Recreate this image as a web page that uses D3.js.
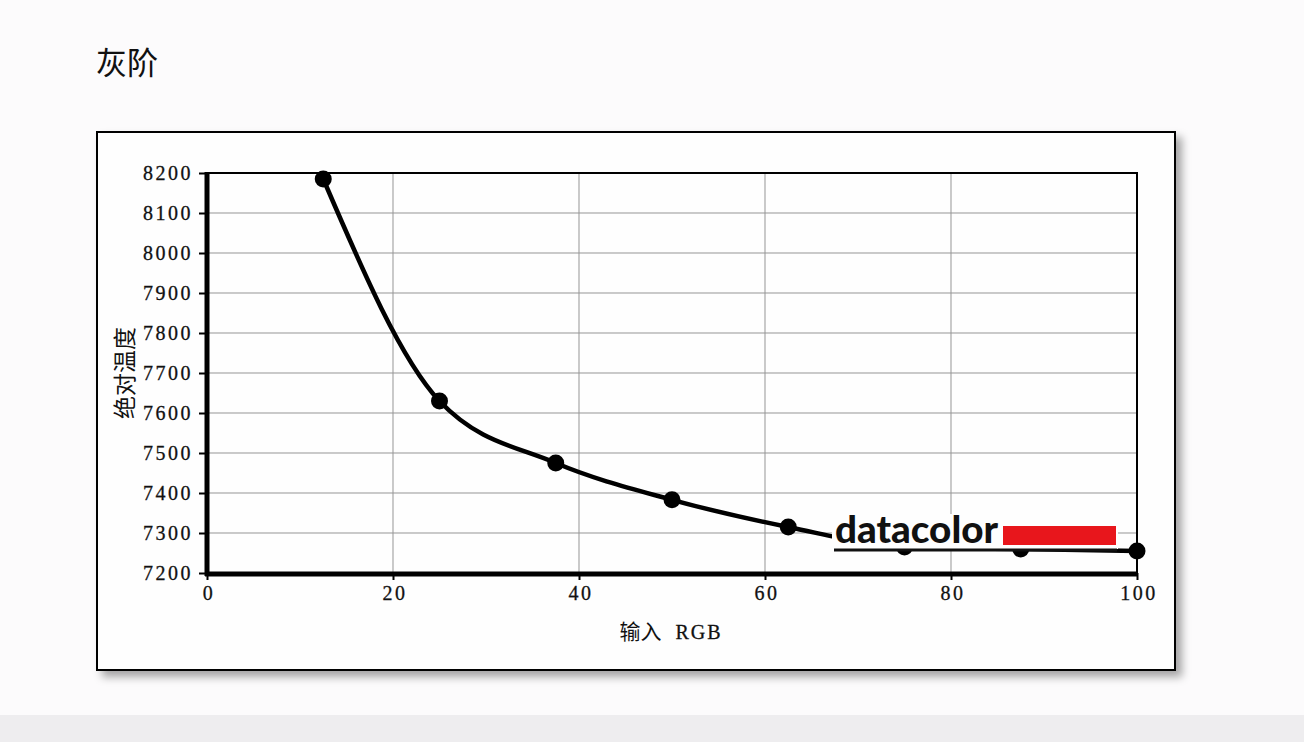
<!DOCTYPE html>
<html><head><meta charset="utf-8">
<script src="https://cdn.jsdelivr.net/npm/d3@7"></script>
<style>
html,body{margin:0;padding:0;background:#fcfbfc;}
svg{display:block;}
</style></head>
<body>
<script>
const xValues = [12.5, 25, 37.5, 50, 62.5, 75, 87.5, 100];
const tempValues = [8185, 7630, 7475, 7383, 7315, 7265, 7260, 7255];
const xTicks = [0, 20, 40, 60, 80, 100];
const yTicks = [7200, 7300, 7400, 7500, 7600, 7700, 7800, 7900, 8000, 8100, 8200];
const title = "灰阶";
const yLabel = "绝对温度";
const xLabelCJK = "输入";
const xLabelLatin = "RGB";
const logoText = "datacolor";

const W = 1304, H = 742;
const svg = d3.select("body").append("svg").attr("width", W).attr("height", H);

const defs = svg.append("defs");
const f = defs.append("filter").attr("id","sh").attr("x","-5%").attr("y","-5%").attr("width","115%").attr("height","120%");
f.append("feDropShadow").attr("dx",6).attr("dy",6).attr("stdDeviation",4).attr("flood-color","#000").attr("flood-opacity",0.35);

svg.append("rect").attr("x",0).attr("y",0).attr("width",W).attr("height",H).attr("fill","#fcfbfc");
svg.append("rect").attr("x",0).attr("y",715).attr("width",W).attr("height",27).attr("fill","#eeedef");

svg.append("text").attr("x",96).attr("y",74).text(title)
  .attr("font-family","'Noto Sans CJK SC'").attr("font-size",31).attr("font-weight",400).attr("fill","#111");

// frame
svg.append("rect").attr("x",97).attr("y",132).attr("width",1078).attr("height",538)
  .attr("fill","#fefefe").attr("stroke","#000").attr("stroke-width",2).attr("filter","url(#sh)");

const x = d3.scaleLinear().domain([0,100]).range([207,1137]);
const y = d3.scaleLinear().domain([7200,8200]).range([573,173]);

const numFont = "'Liberation Serif', serif";

// grid
const g = svg.append("g");
g.selectAll("line.gy").data(yTicks.slice(1,-1)).join("line")
  .attr("x1",x(0)).attr("x2",x(100)).attr("y1",d=>y(d)).attr("y2",d=>y(d))
  .attr("stroke","#959595").attr("stroke-width",1);
g.selectAll("line.gx").data(xTicks.slice(1,-1)).join("line")
  .attr("y1",y(7200)).attr("y2",y(8200)).attr("x1",d=>x(d)).attr("x2",d=>x(d))
  .attr("stroke","#959595").attr("stroke-width",1);

// top & right border
svg.append("line").attr("x1",x(0)).attr("x2",x(100)+1).attr("y1",y(8200)).attr("y2",y(8200)).attr("stroke","#000").attr("stroke-width",2);
svg.append("line").attr("x1",x(100)).attr("x2",x(100)).attr("y1",y(8200)).attr("y2",y(7200)).attr("stroke","#000").attr("stroke-width",2);

// axes
const yAxis = d3.axisLeft(y).tickValues(yTicks).tickSize(8).tickPadding(5).tickFormat(d3.format("d"));
const ya = svg.append("g").attr("transform",`translate(${x(0)},0)`).call(yAxis);
ya.select(".domain").remove();
ya.selectAll(".tick line").attr("stroke","#000").attr("stroke-width",2);
ya.selectAll(".tick text").attr("font-family",numFont).attr("font-size",20).attr("letter-spacing",2.5)
  .attr("fill","#111").attr("stroke","#111").attr("stroke-width",0.3).attr("dx",-1);

const xAxis = d3.axisBottom(x).tickValues(xTicks).tickSize(7).tickPadding(6).tickFormat(d3.format("d"));
const xa = svg.append("g").attr("transform",`translate(0,${y(7200)})`).call(xAxis);
xa.select(".domain").remove();
xa.selectAll(".tick line").attr("stroke","#000").attr("stroke-width",2);
xa.selectAll(".tick text").attr("font-family",numFont).attr("font-size",20).attr("letter-spacing",2.5)
  .attr("fill","#111").attr("stroke","#111").attr("stroke-width",0.3).attr("dx",1.5);

svg.append("line").attr("x1",x(0)).attr("x2",x(0)).attr("y1",y(8200)-1).attr("y2",y(7200)+3).attr("stroke","#000").attr("stroke-width",5);
svg.append("line").attr("x1",x(0)-2).attr("x2",x(100)+1).attr("y1",y(7200)+1).attr("y2",y(7200)+1).attr("stroke","#000").attr("stroke-width",5);

// data
const pts = xValues.map((v,i)=>[v,tempValues[i]]);
const line = d3.line().x(d=>x(d[0])).y(d=>y(d[1])).curve(d3.curveMonotoneX);
svg.append("path").attr("d",line(pts)).attr("fill","none").attr("stroke","#000").attr("stroke-width",4.5).attr("stroke-linejoin","round");
svg.selectAll("circle.pt").data(pts).join("circle")
  .attr("cx",d=>x(d[0])).attr("cy",d=>y(d[1])).attr("r",8.5).attr("fill","#000");

// labels
svg.append("text").attr("transform",`translate(133,373) rotate(-90)`).attr("text-anchor","middle")
  .attr("font-family","'Noto Sans CJK SC'").attr("font-size",23).attr("fill","#111").text(yLabel);
const xl = svg.append("text").attr("x",671).attr("y",639).attr("text-anchor","middle").attr("fill","#111");
xl.append("tspan").attr("font-family","'Noto Sans CJK SC'").attr("font-size",21).text(xLabelCJK);
xl.append("tspan").attr("font-family",numFont).attr("font-size",20).attr("letter-spacing",2).attr("dx",14)
  .attr("stroke","#111").attr("stroke-width",0.3).text(xLabelLatin);

// logo
const lg = svg.append("g");
lg.append("rect").attr("x",832).attr("y",514).attr("width",286).attr("height",35).attr("fill","#fefefe");
lg.append("text").attr("x",835).attr("y",543).attr("font-family","Lato, 'Open Sans', sans-serif").attr("font-weight",900)
  .attr("font-size",38).attr("textLength",163).attr("lengthAdjust","spacingAndGlyphs").attr("fill","#111").text(logoText);
lg.append("rect").attr("x",1003).attr("y",526).attr("width",113).attr("height",19).attr("fill","#e8161c");
lg.append("line").attr("x1",834).attr("x2",1117).attr("y1",550).attr("y2",550).attr("stroke","#111").attr("stroke-width",3);
</script>
</body></html>
